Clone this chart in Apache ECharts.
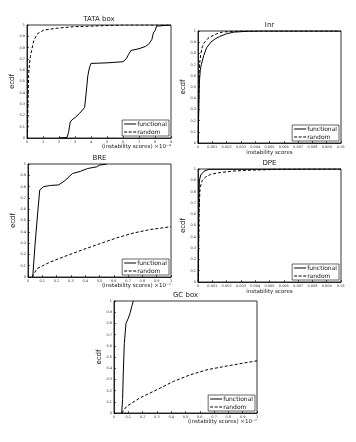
<!DOCTYPE html>
<html><head><meta charset="utf-8">
<script src="https://cdn.jsdelivr.net/npm/echarts@6/dist/echarts.min.js"></script>
<style>html,body{margin:0;padding:0;background:#fff}#c{width:356px;height:442px}</style>
</head><body><div id="c"></div>
<script>
// ---- data ----
const titles = ['TATA box', 'Inr', 'BRE', 'DPE', 'GC box'];
const xNames = ['(instability scores) \u00d710\u207b\u2074', 'instability scores', '(instability scores) \u00d710\u207b\u2077', 'instability scores', '(instability scores) \u00d710\u207b\u2077'];
const xMax = [9, 0.01, 1, 0.01, 1];
const xStep = [1, 0.001, 0.1, 0.001, 0.1];
const legendNames = ['functional', 'random'];

const tataFunctional = [[2.0,0],[2.5,0.005],[2.6,0.05],[2.7,0.14],[2.8,0.16],[3.0,0.18],[3.3,0.22],[3.6,0.27],[3.7,0.4],[3.8,0.55],[3.9,0.62],[4.0,0.66],[5.0,0.665],[6.0,0.675],[6.2,0.70],[6.35,0.74],[6.5,0.775],[7.0,0.79],[7.4,0.81],[7.6,0.83],[7.8,0.87],[7.9,0.93],[8.0,0.95],[8.1,0.99],[8.2,1],[9,1]];
const tataRandom = [[0.03,0],[0.06,0.3],[0.1,0.55],[0.15,0.65],[0.21,0.72],[0.31,0.79],[0.42,0.86],[0.63,0.92],[1.04,0.955],[1.9,0.972],[2.9,0.985],[4.6,0.993],[6,1],[9,1]];

const inrFunctional = [[0.00002,0],[0.00004,0.2],[0.00007,0.4],[0.0001,0.55],[0.00016,0.65],[0.00023,0.7],[0.0004,0.78],[0.0006,0.85],[0.0009,0.9],[0.0012,0.93],[0.0015,0.95],[0.002,0.975],[0.0025,0.99],[0.0035,0.998],[0.0045,1],[0.01,1]];
const inrRandom = [[0.00002,0],[0.00004,0.35],[0.00007,0.6],[0.00012,0.72],[0.0002,0.8],[0.0003,0.86],[0.00046,0.9],[0.0007,0.935],[0.0009,0.95],[0.0013,0.975],[0.0017,0.99],[0.0025,0.998],[0.003,1],[0.01,1]];

const breFunctional = [[0.033,0],[0.05,0.3],[0.07,0.6],[0.082,0.77],[0.11,0.8],[0.156,0.81],[0.215,0.815],[0.26,0.855],[0.31,0.915],[0.366,0.935],[0.417,0.96],[0.48,0.975],[0.5,0.99],[0.55,1]];
const breRandom = [[0.028,0],[0.063,0.074],[0.156,0.133],[0.273,0.19],[0.39,0.245],[0.506,0.296],[0.62,0.346],[0.74,0.39],[0.855,0.42],[1,0.445]];

const dpeFunctional = [[0.00002,0],[0.00004,0.4],[0.00007,0.75],[0.0001,0.9],[0.00019,0.947],[0.00042,0.98],[0.00077,0.997],[0.0009,1],[0.01,1]];
const dpeRandom = [[0.00002,0],[0.000047,0.33],[0.00007,0.62],[0.00014,0.83],[0.0003,0.9],[0.00054,0.93],[0.00089,0.953],[0.0016,0.97],[0.0025,0.982],[0.0037,0.99],[0.0056,0.997],[0.0079,1],[0.01,1]];

const gcFunctional = [[0.054,0],[0.06,0.12],[0.065,0.356],[0.072,0.62],[0.084,0.8],[0.1,0.846],[0.112,0.89],[0.124,0.95],[0.135,1]];
const gcRandom = [[0.054,0],[0.089,0.06],[0.18,0.134],[0.3,0.208],[0.416,0.282],[0.53,0.34],[0.65,0.386],[0.77,0.415],[0.88,0.44],[1,0.466]];

const functionalSets = [tataFunctional, inrFunctional, breFunctional, dpeFunctional, gcFunctional];
const randomSets = [tataRandom, inrRandom, breRandom, dpeRandom, gcRandom];

// ---- layout ----
const W = 356, H = 442;
const grids = [
  {left:27, top:25, width:144, height:113},
  {left:198, top:31, width:143, height:112},
  {left:28, top:164, width:143, height:113},
  {left:198, top:169, width:143, height:113},
  {left:114, top:301, width:143, height:112}
];
const ecdfGap = [9, 7, 9, 7, 9];
const solidIcon = 'path://M0,0h12v1h-12z';
const dashIcon = 'path://M0,0h3v1h-3zM4.5,0h3v1h-3zM9,0h3v1h-3z';

const option = {
  backgroundColor: '#fff',
  animation: false,
  title: [], grid: [], xAxis: [], yAxis: [], legend: [], series: []
};
grids.forEach((g, i) => {
  option.grid.push({left:g.left, top:g.top, width:g.width, height:g.height, show:true, borderColor:'#000', borderWidth:0.8, backgroundColor:'#fff', containLabel:false});
  option.title.push({text: titles[i], left: g.left + g.width/2, top: g.top - 9, textAlign:'center', padding:0,
    textStyle:{fontSize:7, fontWeight:'normal', color:'#222', fontFamily:'DejaVu Sans'}});
  const dec = xStep[i] < 0.01 ? 3 : 1;
  const mid = (i === 1 || i === 3);
  option.xAxis.push({gridIndex:i, type:'value', min:0, max:xMax[i], interval:xStep[i],
    name: xNames[i],
    nameLocation: mid ? 'middle' : 'end',
    nameGap: mid ? 7 : 0,
    nameTextStyle: mid ? {fontSize:5.5, color:'#222', fontFamily:'DejaVu Sans'} :
      {fontSize:5.5, color:'#222', fontFamily:'DejaVu Sans', align:'right', verticalAlign:'top', padding:[6,0,0,0]},
    axisLine:{show:true, lineStyle:{color:'#000', width:0.8}},
    axisTick:{inside:true, length:2, lineStyle:{color:'#000', width:0.6}},
    axisLabel:{fontSize:3.5, color:'#333', margin:2, fontFamily:'DejaVu Sans',
      formatter: v => String(+v.toFixed(dec))},
    splitLine:{show:false}});
  option.yAxis.push({gridIndex:i, type:'value', min:0, max:1, interval:0.1,
    name:'ecdf', nameLocation:'middle', nameGap: ecdfGap[i], nameRotate:90,
    nameTextStyle:{fontSize:7, color:'#111', fontFamily:'DejaVu Sans'},
    axisLine:{show:true, lineStyle:{color:'#000', width:0.8}},
    axisTick:{inside:true, length:2, lineStyle:{color:'#000', width:0.6}},
    axisLabel:{fontSize:3.5, color:'#333', margin:2, fontFamily:'DejaVu Sans',
      formatter: v => String(+v.toFixed(1))},
    splitLine:{show:false}});
  option.legend.push({
    data: [{name: legendNames[0], icon: solidIcon}, {name: legendNames[1], icon: dashIcon}],
    orient:'vertical', selectedMode:false,
    right: W - (g.left + g.width) + 2, bottom: H - (g.top + g.height) + 2,
    backgroundColor:'#fff', borderColor:'#000', borderWidth:0.6, borderRadius:0,
    padding:[1,2,1,2], itemGap:2, itemWidth:12, itemHeight:1,
    itemStyle:{color:'#000', borderWidth:0},
    lineStyle:{width:0},
    textStyle:{fontSize:6, color:'#111', fontFamily:'DejaVu Sans', padding:[0,0,0,-4]}});
  option.series.push({name:legendNames[0], type:'line', xAxisIndex:i, yAxisIndex:i, data:functionalSets[i],
    symbol:'none', showSymbol:false, lineStyle:{color:'#000', width:1, type:'solid'}, itemStyle:{color:'#000'}});
  option.series.push({name:legendNames[1], type:'line', xAxisIndex:i, yAxisIndex:i, data:randomSets[i],
    symbol:'none', showSymbol:false, lineStyle:{color:'#000', width:1, type:[3,2]}, itemStyle:{color:'#000'}});
});
const chart = echarts.init(document.getElementById('c'), null, {renderer:'canvas'});
chart.setOption(option);
</script>
</body></html>
